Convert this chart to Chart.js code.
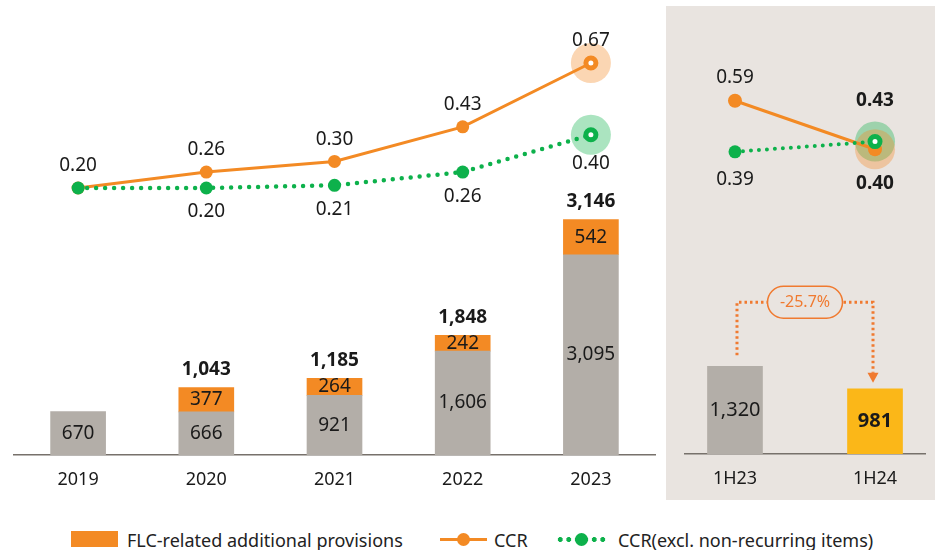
<!DOCTYPE html>
<html>
<head>
<meta charset="utf-8">
<script src="https://cdn.jsdelivr.net/npm/chart.js@4.4.0/dist/chart.umd.min.js"></script>
<style>
  body { margin: 0; background: #fff; font-family: 'Noto Sans', sans-serif; }
  #wrap { position: relative; width: 935px; height: 550px; overflow: hidden; }
  #left { position: absolute; left: 0; top: 0; }
  #right { position: absolute; left: 666px; top: 6px; background: #e9e4e0; }
  .lg { position: absolute; }
  .lg-text { position: absolute; top: 528px; font-size: 18px; line-height: 24px; color: #222; white-space: nowrap; }
</style>
</head>
<body>
<div id="wrap">
  <canvas id="left" width="660" height="500"></canvas>
  <canvas id="right" width="269" height="494"></canvas>

  <!-- legend -->
  <div class="lg" style="left:71px;top:531px;width:47px;height:16px;background:#f38a24"></div>
  <div class="lg-text" style="left:127px">FLC-related additional provisions</div>
  <div class="lg" style="left:440px;top:538px;width:47px;height:3px;background:#f38a24"></div>
  <div class="lg" style="left:457px;top:533px;width:13px;height:13px;border-radius:50%;background:#f38a24"></div>
  <div class="lg-text" style="left:494px">CCR</div>
  <div class="lg" style="left:556px;top:537px;width:50px;height:5px;background:radial-gradient(circle, #0db14b 2.2px, transparent 2.6px) repeat-x;background-size:8.5px 5px"></div>
  <div class="lg" style="left:575px;top:533px;width:13px;height:13px;border-radius:50%;background:#0db14b"></div>
  <div class="lg-text" style="left:618px">CCR(excl. non-recurring items)</div>
</div>
<script>
// ---------------- data ----------------
const years = ['2019', '2020', '2021', '2022', '2023'];
const provBase = [670, 666, 921, 1606, 3095];
const provFlc = [null, 377, 264, 242, 542];
const provTotal = [null, 1043, 1185, 1848, 3146];
const ccr = [0.20, 0.26, 0.30, 0.43, 0.67];
const ccrExcl = [0.20, 0.20, 0.21, 0.26, 0.40];

const periods = ['1H23', '1H24'];
const halfProv = [1320, 981];
const halfCcr = [0.59, 0.40];
const halfCcrExcl = [0.39, 0.43];
const halfChange = '-25.7%';

// ---------------- style ----------------
const FONT = "'Noto Sans', sans-serif";
const GRAY = '#b3aea8';
const ORANGE = '#f38a24';
const GREEN = '#0db14b';
const YELLOW = '#fbb718';
const BG = '#e9e4e0';
const AXIS = '#77716b';
const TEXT = '#1a1a1a';

const fmt = v => v.toLocaleString('en-US');
const two = v => v.toFixed(2);

// draws the numbers next to bars / points
const labelPlugin = {
  id: 'valueLabels',
  afterDatasetsDraw(chart) {
    const ctx = chart.ctx;
    chart.data.datasets.forEach((ds, i) => {
      if (!ds.valueLabels) return;
      const meta = chart.getDatasetMeta(i);
      ds.valueLabels.forEach(L => {
        meta.data.forEach((el, j) => {
          const text = L.text[j];
          if (text == null) return;
          let y;
          if (L.center) y = (el.y + el.base) / 2;
          else y = el.y + (Array.isArray(L.dy) ? L.dy[j] : L.dy);
          const w = Array.isArray(L.weight) ? L.weight[j] : (L.weight || 'normal');
          ctx.save();
          ctx.font = w + ' ' + (L.size || 19) + 'px ' + FONT;
          ctx.fillStyle = L.color || TEXT;
          ctx.textAlign = 'center';
          ctx.textBaseline = 'middle';
          ctx.fillText(text, el.x, y);
          ctx.restore();
        });
      });
    });
  }
};

// dotted bracket with arrow between the two half-year bars
const changePlugin = {
  id: 'changeArrow',
  afterDatasetsDraw(chart) {
    const idx = chart.data.datasets.findIndex(d => d.type === 'bar');
    const bars = chart.getDatasetMeta(idx).data;
    const a = bars[0], b = bars[1];
    const ctx = chart.ctx;
    const col = '#f07a30';
    const topY = a.y - 64;
    const x1 = a.x + 2, x2 = b.x - 2;
    ctx.save();
    ctx.strokeStyle = col;
    ctx.lineWidth = 3;
    ctx.setLineDash([2.5, 3]);
    ctx.beginPath();
    ctx.moveTo(x1, a.y - 11);
    ctx.lineTo(x1, topY);
    ctx.lineTo(x2, topY);
    ctx.lineTo(x2, b.y - 16);
    ctx.stroke();
    ctx.setLineDash([]);
    ctx.fillStyle = col;
    ctx.beginPath();
    ctx.moveTo(x2 - 5.5, b.y - 16);
    ctx.lineTo(x2 + 5.5, b.y - 16);
    ctx.lineTo(x2, b.y - 6);
    ctx.closePath();
    ctx.fill();
    // pill
    const cx = (x1 + x2) / 2, w = 75, h = 32, r = 16;
    ctx.beginPath();
    ctx.roundRect(cx - w / 2, topY - h / 2, w, h, r);
    ctx.fillStyle = BG;
    ctx.fill();
    ctx.lineWidth = 1.5;
    ctx.strokeStyle = col;
    ctx.stroke();
    ctx.fillStyle = col;
    ctx.font = '16px ' + FONT;
    ctx.textAlign = 'center';
    ctx.textBaseline = 'middle';
    ctx.fillText(halfChange, cx, topY);
    ctx.restore();
  }
};

const xTicks = { color: TEXT, font: { family: FONT, size: 18 }, padding: 14 };

// ---------------- left: annual ----------------
new Chart(document.getElementById('left'), {
  type: 'bar',
  data: {
    labels: years,
    datasets: [
      {
        type: 'line', data: ccrExcl, yAxisID: 'yr', order: 1,
        borderColor: GREEN, borderWidth: 4.5, borderDash: [0, 9], borderCapStyle: 'round',
        pointRadius: [6.5, 6.5, 6.5, 6.5, 5], pointBorderWidth: [0, 0, 0, 0, 5],
        pointBackgroundColor: [GREEN, GREEN, GREEN, GREEN, '#fff'], pointBorderColor: GREEN,
        valueLabels: [{ text: ccrExcl.map((v, i) => i === 0 ? null : two(v)), dy: [0, 24, 24, 25, 29] }]
      },
      {
        type: 'line', data: ccr, yAxisID: 'yr', order: 2,
        borderColor: ORANGE, borderWidth: 3,
        pointRadius: [6.5, 6.5, 6.5, 6.5, 5], pointBorderWidth: [0, 0, 0, 0, 5],
        pointBackgroundColor: [ORANGE, ORANGE, ORANGE, ORANGE, '#fff'], pointBorderColor: ORANGE,
        valueLabels: [{ text: ccr.map(two), dy: -22 }]
      },
      {
        type: 'line', data: ccr.map((v, i) => i === ccr.length - 1 ? v : null), yAxisID: 'yr', order: 3,
        showLine: false, pointRadius: 20, pointBorderWidth: 0, pointBackgroundColor: 'rgba(243,138,36,0.35)'
      },
      {
        type: 'line', data: ccrExcl.map((v, i) => i === ccrExcl.length - 1 ? v : null), yAxisID: 'yr', order: 3,
        showLine: false, pointRadius: 20, pointBorderWidth: 0, pointBackgroundColor: 'rgba(13,177,75,0.35)'
      },
      {
        type: 'bar', data: provBase, yAxisID: 'y', stack: 'p', order: 10,
        backgroundColor: GRAY, barThickness: 55,
        valueLabels: [{ text: provBase.map(fmt), center: true }]
      },
      {
        type: 'bar', data: provFlc, yAxisID: 'y', stack: 'p', order: 10,
        backgroundColor: ORANGE, barThickness: 55,
        valueLabels: [
          { text: provFlc.map(v => v == null ? null : fmt(v)), center: true },
          { text: provTotal.map(v => v == null ? null : fmt(v)), dy: -18, weight: 'bold' }
        ]
      }
    ]
  },
  options: {
    responsive: false, animation: false, events: [],
    layout: { autoPadding: false, padding: { left: 14, right: 5, top: 0, bottom: 0 } },
    plugins: { legend: { display: false }, tooltip: { enabled: false } },
    scales: {
      x: {
        stacked: true,
        grid: { display: false, drawTicks: false },
        border: { display: true, color: AXIS, width: 1.5 },
        ticks: xTicks,
        afterFit(s) { s.height = 45; }
      },
      y: { display: false, stacked: true, min: 0, max: 7032 },
      yr: { display: false, min: -0.8038, max: 0.9068 }
    }
  },
  plugins: [labelPlugin]
});

// ---------------- right: half-year ----------------
const pts = arr => arr.map((v, i) => ({ x: i, y: v }));

new Chart(document.getElementById('right'), {
  type: 'bar',
  data: {
    datasets: [
      {
        type: 'line', data: pts(halfCcrExcl), yAxisID: 'yr', order: 1,
        borderColor: GREEN, borderWidth: 4, borderDash: [0, 8], borderCapStyle: 'round',
        pointRadius: [6.5, 5], pointBorderWidth: [0, 5],
        pointBackgroundColor: [GREEN, '#fff'], pointBorderColor: GREEN,
        valueLabels: [{ text: halfCcrExcl.map(two), dy: [28, -41], weight: ['normal', 'bold'] }]
      },
      {
        type: 'line', data: pts(halfCcr), yAxisID: 'yr', order: 2,
        borderColor: ORANGE, borderWidth: 3,
        pointRadius: 7, pointBorderWidth: 0, pointBackgroundColor: ORANGE,
        valueLabels: [{ text: halfCcr.map(two), dy: [-23, 34], weight: ['normal', 'bold'] }]
      },
      {
        type: 'line', data: [{ x: 1, y: halfCcr[1] }], yAxisID: 'yr', order: 3,
        showLine: false, pointRadius: 20, pointBorderWidth: 0, pointBackgroundColor: 'rgba(243,138,36,0.35)'
      },
      {
        type: 'line', data: [{ x: 1, y: halfCcrExcl[1] }], yAxisID: 'yr', order: 3,
        showLine: false, pointRadius: 20, pointBorderWidth: 0, pointBackgroundColor: 'rgba(13,177,75,0.35)'
      },
      {
        type: 'bar', data: pts(halfProv), yAxisID: 'y', order: 10,
        backgroundColor: [GRAY, YELLOW], barThickness: 55,
        valueLabels: [{ text: halfProv.map(fmt), center: true, weight: ['normal', 'bold'], size: 20 }]
      }
    ]
  },
  options: {
    responsive: false, animation: false, events: [],
    layout: { autoPadding: false, padding: { left: 19, right: 10, top: 0, bottom: 0 } },
    plugins: { legend: { display: false }, tooltip: { enabled: false } },
    scales: {
      x: {
        type: 'linear', min: -0.357, max: 1.357, offset: false,
        grid: { display: false, drawTicks: false },
        border: { display: true, color: AXIS, width: 1.5 },
        afterBuildTicks(s) { s.ticks = periods.map((p, i) => ({ value: i })); },
        ticks: Object.assign({}, xTicks, { callback: v => periods[v] }),
        afterFit(s) { s.height = 46; }
      },
      y: { display: false, min: 0, max: 6737 },
      yr: { display: false, min: -0.795, max: 0.9616 }
    }
  },
  plugins: [labelPlugin, changePlugin]
});
</script>
</body>
</html>
